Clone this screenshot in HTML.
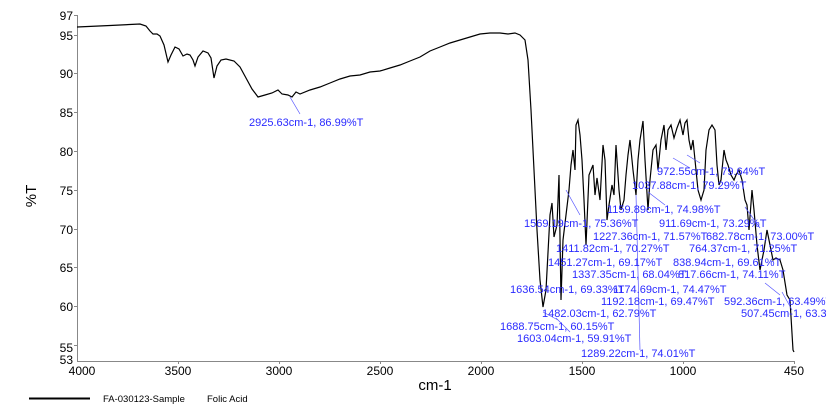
<!DOCTYPE html>
<html><head><style>
html,body{margin:0;padding:0;background:#fff;}
svg{display:block;font-family:"Liberation Sans",Arial,sans-serif;}
.l{fill:#2a2aff;font-size:11px;}
.t{fill:#000;font-size:12px;}
</style></head><body>
<svg width="826" height="407" viewBox="0 0 826 407">
<g stroke="#888" stroke-width="1" fill="none">
<line x1="77.5" y1="15" x2="77.5" y2="361"/>
<line x1="77" y1="361.5" x2="795" y2="361.5"/>
<line x1="74" y1="15.5" x2="77" y2="15.5"/><line x1="74" y1="35.5" x2="77" y2="35.5"/>
<line x1="74" y1="73.5" x2="77" y2="73.5"/><line x1="74" y1="112.5" x2="77" y2="112.5"/>
<line x1="74" y1="151.5" x2="77" y2="151.5"/><line x1="74" y1="190.5" x2="77" y2="190.5"/>
<line x1="74" y1="229.5" x2="77" y2="229.5"/><line x1="74" y1="267.5" x2="77" y2="267.5"/>
<line x1="74" y1="306.5" x2="77" y2="306.5"/><line x1="74" y1="345.5" x2="77" y2="345.5"/>
<line x1="178.5" y1="361" x2="178.5" y2="364"/><line x1="279.5" y1="361" x2="279.5" y2="364"/>
<line x1="380.5" y1="361" x2="380.5" y2="364"/><line x1="481.5" y1="361" x2="481.5" y2="364"/>
<line x1="582.5" y1="361" x2="582.5" y2="364"/><line x1="683.5" y1="361" x2="683.5" y2="364"/>
<line x1="794.5" y1="361" x2="794.5" y2="364"/>
</g>
<g class="t" text-anchor="end">
<text x="73" y="20">97</text><text x="73" y="40">95</text><text x="73" y="78">90</text>
<text x="73" y="117">85</text><text x="73" y="156">80</text><text x="73" y="195">75</text>
<text x="73" y="234">70</text><text x="73" y="272">65</text><text x="73" y="311">60</text>
<text x="73" y="352">55</text><text x="73" y="364">53</text>
</g>
<g class="t" text-anchor="middle">
<text x="82" y="375">4000</text><text x="178" y="375">3500</text><text x="279" y="375">3000</text>
<text x="380" y="375">2500</text><text x="481" y="375">2000</text><text x="582" y="375">1500</text>
<text x="683" y="375">1000</text><text x="794" y="375">450</text>
</g>
<text x="435" y="390" font-size="15" text-anchor="middle">cm-1</text>
<text transform="translate(36,196) rotate(-90)" font-size="15" text-anchor="middle">%T</text>
<line x1="29" y1="398.5" x2="90" y2="398.5" stroke="#000" stroke-width="2"/>
<text x="103" y="402" font-size="9.5">FA-030123-Sample</text>
<text x="207" y="402" font-size="9.5">Folic Acid</text>
<polyline fill="none" stroke="#000" stroke-width="1.2" points="77,27 110,25.5 140,24 146,26 150,31 153,34 157,34 160,36 164,45 168,62 171,55 175,47 179,49 183,56 187,54 190,55 193,60 195,66 198,57 203,51 208,53 211,58 214,78 217,66 221,60 226,59 234,61 240,67 246,78 252,89 258,97 265,95 272,93 278,90 282,94 288,95 292,97 296,92 300,94 310,90 320,87 330,83 340,79 350,76 360,75 370,72 380,71 390,68 400,65 410,61 420,57 430,51 440,47 450,43 460,40 470,37 480,34 490,33 500,33 508,34 515,33 520,35 525,40 528,60 531,110 534,170 537,230 540,280 543,307 546,290 550,215 552,203 554,237 557,225 559,175 561,300 563,240 566,215 569,190 571,165 573,150 575,170 576,125 578,120 580,135 582,160 584,200 586,245 589,175 591,170 593,165 595,195 597,178 600,200 603,145 605,160 607,220 609,205 612,185 614,195 616,145 619,190 621,210 624,200 626,175 628,155 630,140 633,170 636,195 638,160 640,140 643,121 645,160 648,210 650,180 653,150 656,145 658,170 661,140 664,125 666,150 668,130 671,125 674,138 677,128 680,120 683,135 685,123 687,120 689,140 691,150 693,140 696,170 698,190 701,200 704,190 706,150 709,130 712,125 715,130 717,165 719,185 721,180 724,150 726,160 728,165 731,175 734,180 736,175 739,170 742,180 745,200 747,205 749,230 752,190 754,210 757,245 760,270 764,250 767,230 770,245 773,260 776,258 780,260 783,270 787,295 790,300 793,350 794,352"/>
<g stroke="#5555ff" stroke-width="0.7" fill="none">
<line x1="290" y1="97" x2="300" y2="114"/>
<line x1="566" y1="190" x2="580" y2="215"/>
<line x1="673" y1="158" x2="690" y2="168"/>
<line x1="687" y1="155" x2="700" y2="163"/>
<line x1="648" y1="192" x2="665" y2="205"/>
<line x1="745" y1="207" x2="760" y2="228"/>
<line x1="765" y1="283" x2="780" y2="295"/>
<line x1="782" y1="292" x2="792" y2="310"/>
<line x1="636" y1="195" x2="640" y2="350"/>
<line x1="543" y1="312" x2="558" y2="320"/>
<line x1="556" y1="318" x2="570" y2="332"/>
</g>
<g class="l">
<text x="249" y="126">2925.63cm-1, 86.99%T</text>
<text x="657" y="175">972.55cm-1, 79.64%T</text>
<text x="632" y="189">1037.88cm-1, 79.29%T</text>
<text x="607" y="213">1159.89cm-1, 74.98%T</text>
<text x="659" y="227">911.69cm-1, 73.29%T</text>
<text x="524" y="227">1569.19cm-1, 75.36%T</text>
<text x="593" y="240">1227.36cm-1, 71.57%T</text>
<text x="706" y="240">682.78cm-1, 73.00%T</text>
<text x="556" y="252">1411.82cm-1, 70.27%T</text>
<text x="689" y="252">764.37cm-1, 71.25%T</text>
<text x="548" y="266">1451.27cm-1, 69.17%T</text>
<text x="673" y="266">838.94cm-1, 69.61%T</text>
<text x="572" y="278">1337.35cm-1, 68.04%T</text>
<text x="678" y="278">817.66cm-1, 74.11%T</text>
<text x="510" y="293">1636.54cm-1, 69.33%T</text>
<text x="613" y="293">1174.69cm-1, 74.47%T</text>
<text x="601" y="305">1192.18cm-1, 69.47%T</text>
<text x="724" y="305">592.36cm-1, 63.49%T</text>
<text x="542" y="317">1482.03cm-1, 62.79%T</text>
<text x="741" y="317">507.45cm-1, 63.38%T</text>
<text x="500" y="330">1688.75cm-1, 60.15%T</text>
<text x="517" y="342">1603.04cm-1, 59.91%T</text>
<text x="581" y="357">1289.22cm-1, 74.01%T</text>
</g>
</svg>
</body></html>
